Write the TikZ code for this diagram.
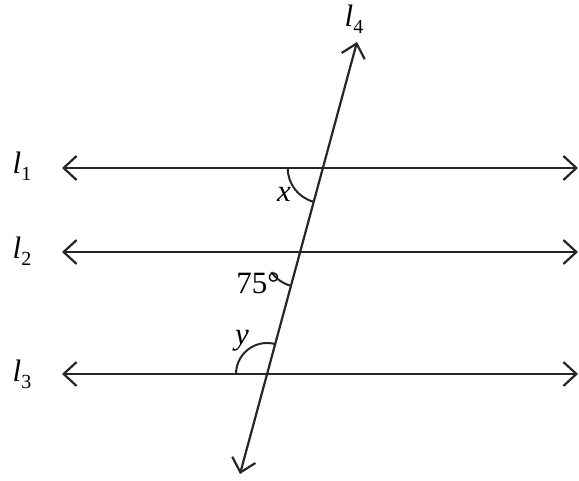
\documentclass[tikz,border=0pt]{standalone}
\usepackage{fontspec}
\setmainfont{Liberation Serif}
\usetikzlibrary{arrows.meta}
\newcommand{\lsub}[1]{\textit{l}\raisebox{-0.22em}{\fontsize{20}{24}\selectfont #1}}
\begin{document}
\begin{tikzpicture}[x=1pt,y=-1pt,
  line/.style={line width=2.2pt,draw=black!85,{Straight Barb[length=13pt,width=24pt,line width=2.2pt]}-{Straight Barb[length=13pt,width=24pt,line width=2.2pt]}},
  arcline/.style={line width=2pt,draw=black!85},
  lab/.style={font=\fontsize{31}{36}\selectfont,inner sep=0pt}]
\useasboundingbox (0,0) rectangle (579,481);
% end points
\coordinate (a1) at (62,168);  \coordinate (b1) at (578,168);
\coordinate (a2) at (62,252);  \coordinate (b2) at (578,252);
\coordinate (a3) at (62,374);  \coordinate (b3) at (578,374);
\coordinate (t0) at (240,474); \coordinate (t1) at (357,42);
% intersections
\coordinate (p1) at (322.7,168);
\coordinate (p2) at (300.0,252);
\coordinate (p3) at (267.0,374);
\draw[line] (a1) -- (b1);
\draw[line] (a2) -- (b2);
\draw[line] (a3) -- (b3);
\draw[line] (t0) -- (t1);
% angle arcs
\draw[arcline] (p1) ++(180:35) arc[start angle=180,end angle=105,radius=35];
\draw[arcline] (p2) ++(145:35) arc[start angle=145,end angle=105,radius=35];
\draw[arcline] (p3) ++(180:31) arc[start angle=180,end angle=285,radius=31];
% labels
\node[lab] (L1) at (22,166) {\lsub{1}};
\node[lab] (L2) at (22,251) {\lsub{2}};
\node[lab] (L3) at (22,374) {\lsub{3}};
\node[lab] (L4) at (354,19) {\lsub{4}};
\node[lab] (X) at (284,194) {\textit{x}};
\node[lab] (A75) at (258,283) {75°};
\node[lab] (Y) at (242,341) {\textit{y}};
\end{tikzpicture}
\end{document}
